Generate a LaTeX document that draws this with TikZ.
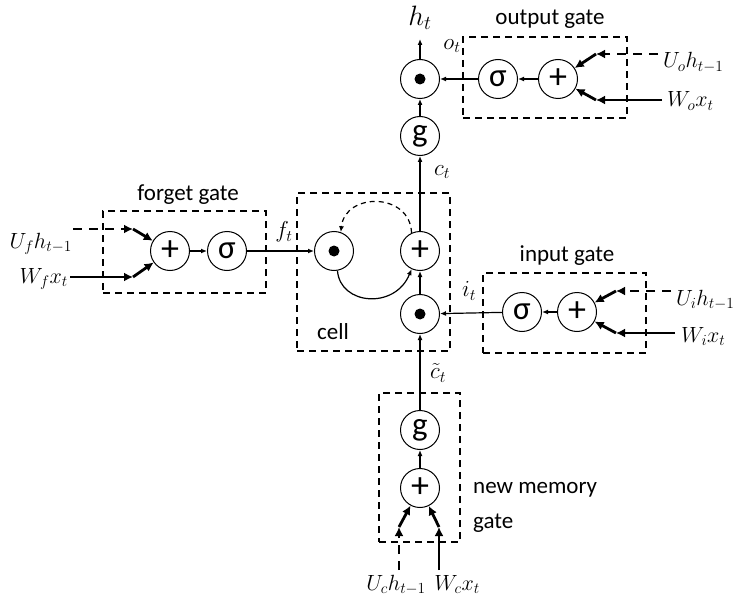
\RequirePackage{fix-cm}
\documentclass[tikz,border=0pt]{standalone}
\usepackage{fontspec}
\setmainfont{Carlito}
\usetikzlibrary{arrows.meta}
\begin{document}
\begin{tikzpicture}[x=1pt,y=-1pt,
  op/.style={circle,draw,line width=1pt,minimum size=39pt,inner sep=0pt,font=\fontsize{36}{36}\selectfont},
  gatebox/.style={draw,line width=1.7pt,dash pattern=on 7pt off 5pt,inner sep=0pt},
  thinarrow/.style={line width=1.2pt,-{Latex[length=6pt,width=5pt]}},
  thickarrow/.style={line width=2.8pt,-{Latex[length=9pt,width=9pt]}},
  thickdash/.style={line width=2.8pt,dash pattern=on 9pt off 7pt,-{Latex[length=9pt,width=9pt]}},
  lbl/.style={font=\fontsize{23}{23}\selectfont,inner sep=0pt},
  mlbl/.style={font=\fontsize{22}{22}\selectfont,inner sep=0pt},
  slbl/.style={font=\fontsize{23}{23}\selectfont,inner sep=0pt},
  dotmark/.style={fill=black}]
\useasboundingbox (0,0) rectangle (738,596);

% gate boxes
\node[gatebox,minimum width=163pt,minimum height=82pt] (fgbox) at (184.5,252) {};
\node[gatebox,minimum width=153pt,minimum height=158pt] (cellbox) at (373.5,272) {};
\node[gatebox,minimum width=163pt,minimum height=80pt] (igbox) at (564.5,313) {};
\node[gatebox,minimum width=164pt,minimum height=81pt] (ogbox) at (545,77.5) {};
\node[gatebox,minimum width=81pt,minimum height=149pt] (nbox) at (419.5,467.5) {};

% box titles
\node[lbl] (fgtitle) at (188,195) {forget gate};
\node[lbl] (ogtitle) at (550,19) {output gate};
\node[lbl] (igtitle) at (567,256) {input gate};
\node[lbl] (celltitle) at (333,332) {cell};
\node[lbl,anchor=west] (nmtitle1) at (473,490) {new memory};
\node[lbl,anchor=west] (nmtitle2) at (473,523) {gate};

% operators
\node[op] (fplus) at (170,251) {+};
\node[op,font=\fontsize{33}{33}\selectfont] (fsig) at (227,251) {σ};
\node[op] (cdot) at (334,251) {};
\node[op] (cplus) at (420,251) {+};
\node[op] (idot) at (420,314) {};
\node[op,font=\fontsize{33}{33}\selectfont] (isig) at (522,312) {σ};
\node[op] (iplus) at (577,312) {+};
\node[op,font=\fontsize{33}{33}\selectfont] (ng) at (420,430) {g};
\node[op] (nplus) at (420,488) {+};
\node[op,font=\fontsize{33}{33}\selectfont] (og) at (420,136) {g};
\node[op] (odot) at (420,79) {};
\node[op,font=\fontsize{33}{33}\selectfont] (osig) at (498,79) {σ};
\node[op] (oplus) at (558,79) {+};
\fill[dotmark] (cdot) circle (5.5pt);
\fill[dotmark] (idot) circle (5.5pt);
\fill[dotmark] (odot) circle (5.5pt);

% input labels
\node[mlbl,anchor=base east] (ufl) at (72,248) {$U_f h_{t-1}$};
\node[mlbl,anchor=base east] (wfl) at (68,283) {$W_f x_t$};
\node[mlbl,anchor=base west] (uol) at (663,68) {$U_o h_{t-1}$};
\node[mlbl,anchor=base west] (wol) at (667,107) {$W_o x_t$};
\node[mlbl,anchor=base west] (uil) at (676,305) {$U_i h_{t-1}$};
\node[mlbl,anchor=base west] (wil) at (681,342) {$W_i x_t$};
\node[mlbl,anchor=base] (ucl) at (396,590) {$U_c h_{t-1}$};
\node[mlbl,anchor=base] (wcl) at (457,590) {$W_c x_t$};

% small labels
\node[slbl] (ftl) at (284,232) {$f_t$};
\node[slbl] (ctl) at (442,172) {$c_t$};
\node[slbl] (otl) at (452,46) {$o_t$};
\node[slbl] (itl) at (469,291) {$i_t$};
\node[slbl] (cctl) at (438,373) {$\tilde{c}_t$};
\node[font=\fontsize{28}{28}\selectfont,inner sep=0pt] (htl) at (420,18) {$h_t$};

% coordinates
\coordinate (ufs) at (73,229);  \coordinate (ufe) at (133,229);
\coordinate (wfs) at (70,277);  \coordinate (wfe) at (133,277);
\coordinate (uos) at (658,54);  \coordinate (uoe) at (596,54);
\coordinate (wos) at (662,100); \coordinate (woe) at (596,100);
\coordinate (uis) at (671,291); \coordinate (uie) at (616,291);
\coordinate (wis) at (675,333); \coordinate (wie) at (616,333);
\coordinate (ucs) at (399,570); \coordinate (uce) at (399,527);
\coordinate (wcs) at (439,570); \coordinate (wce) at (439,527);
\coordinate (htop) at (420,39);

% forget gate inputs
\draw[thickdash] (ufs) -- (ufe);
\draw[thickarrow] (ufe) -- (fplus);
\draw[thickarrow] (wfs) -- (wfe);
\draw[thickarrow] (wfe) -- (fplus);
% output gate inputs
\draw[thickdash] (uos) -- (uoe);
\draw[thickarrow] (uoe) -- (oplus);
\draw[thickarrow] (wos) -- (woe);
\draw[thickarrow] (woe) -- (oplus);
% input gate inputs
\draw[thickdash] (uis) -- (uie);
\draw[thickarrow] (uie) -- (iplus);
\draw[thickarrow] (wis) -- (wie);
\draw[thickarrow] (wie) -- (iplus);
% new memory inputs
\draw[thickdash] (ucs) -- (uce);
\draw[thickarrow] (uce) -- (nplus);
\draw[thickarrow] (wcs) -- (wce);
\draw[thickarrow] (wce) -- (nplus);

% internal connectors
\draw[thinarrow] (fplus) -- (fsig);
\draw[thinarrow] (fsig) -- (cdot);
\draw[thinarrow] (oplus) -- (osig);
\draw[thinarrow] (osig) -- (odot);
\draw[thinarrow] (iplus) -- (isig);
\draw[thinarrow] (isig) -- (idot);
\draw[thinarrow] (nplus) -- (ng);
\draw[thinarrow] (ng) -- (idot);
\draw[thinarrow] (idot) -- (cplus);
\draw[thinarrow] (cplus) -- (og);
\draw[thinarrow] (og) -- (odot);
\draw[thinarrow] (odot) -- (htop);

% cell loop
\draw[thinarrow] (cdot.-80) .. controls (340,305) and (395,310) .. (cplus.-115);
\draw[thinarrow,dash pattern=on 5pt off 4pt] (cplus.115) .. controls (410,192) and (345,192) .. (cdot.70);
\end{tikzpicture}
\end{document}
